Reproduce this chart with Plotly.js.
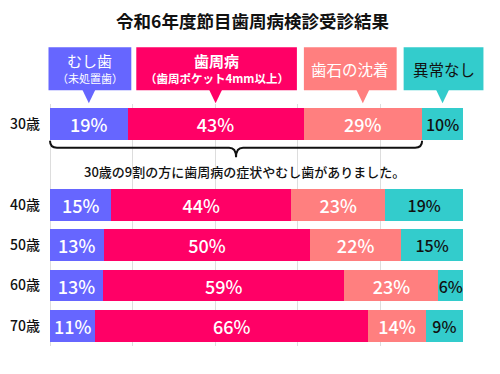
<!DOCTYPE html>
<html>
<head>
<meta charset="utf-8">
<script src="https://cdn.plot.ly/plotly-3.0.1.min.js"></script>
<style>
html,body{margin:0;padding:0;background:#fff;}
#chart{width:500px;height:374px;}
</style>
</head>
<body>
<div id="chart"></div>
<script>
// ---- data ----
const ages = ['30歳', '　', '40歳', '50歳', '60歳', '70歳'];
const seriesNames = ['むし歯', '歯周病', '歯石の沈着', '異常なし'];
const caries    = [19, null, 15, 13, 13, 11];
const perio     = [43, null, 44, 50, 59, 66];
const calculus  = [29, null, 23, 22, 23, 14];
const normal    = [10, null, 19, 15, 6, 9];
const legendTop = ['むし歯', '歯周病', '歯石の沈着', '異常なし'];
const legendSub = ['（未処置歯）', '（歯周ポケット4mm以上）', '', ''];
const noteText = '30歳の9割の方に歯周病の症状やむし歯がありました。';
const titleText = '令和6年度節目歯周病検診受診結果';

// ---- styles ----
const colors = ['#6666FF', '#FF0066', '#FF7F7F', '#33CCCC'];
const textColors = ['#ffffff', '#ffffff', '#ffffff', '#111111'];
const FONT = '"Noto Sans CJK JP", "Noto Sans", sans-serif';

const W = 500, H = 374;
const M = {l: 49.5, r: 36.5, t: 103.8, b: 28};
const plotW = W - M.l - M.r, plotH = H - M.t - M.b;
const px = x => (x - M.l) / plotW;      // pixel -> paper x
const py = y => (H - M.b - y) / plotH;  // pixel -> paper y

const allSeries = [caries, perio, calculus, normal];

const traces = allSeries.map((vals, i) => ({
  type: 'bar',
  orientation: 'h',
  name: seriesNames[i],
  y: ages,
  x: vals,
  marker: {color: colors[i], line: {width: 0}},
  text: vals.map(v => v == null ? '' : v + '%'),
  textposition: 'inside',
  insidetextanchor: 'middle',
  textangle: 0,
  constraintext: 'none',
  textfont: {family: FONT, size: i === 3 ? 16 : 18, color: textColors[i], weight: 500},
  hoverinfo: 'skip'
}));

// segment centers for the 30歳 row, in normalized percent
const row0 = allSeries.map(s => s[0]);
const tot0 = row0.reduce((a, b) => a + b, 0);
const centers = [];
let acc = 0;
row0.forEach(v => { const p = v / tot0 * 100; centers.push(acc + p / 2); acc += p; });
const braceEnd = (row0[0] + row0[1] + row0[2]) / tot0 * 100;

const shapes = [];
const annotations = [];

// callout boxes (decoration)
const boxPx = [[48, 131], [136, 297], [304, 397], [404, 484]];
const boxTop = 47, boxBot = 90, tipY = 103;
const halfTri = 6.5 / plotW * 100;
boxPx.forEach((b, i) => {
  shapes.push({type: 'rect', xref: 'paper', yref: 'paper',
    x0: px(b[0]), x1: px(b[1]), y0: py(boxBot), y1: py(boxTop),
    fillcolor: colors[i], line: {width: 0}, layer: 'above'});
  const c = centers[i];
  const xToPaper = v => v / 100;
  shapes.push({type: 'path', xref: 'paper', yref: 'paper',
    path: `M ${xToPaper(c - halfTri)} ${py(boxBot - 0.5)} L ${xToPaper(c + halfTri)} ${py(boxBot - 0.5)} L ${xToPaper(c)} ${py(tipY)} Z`,
    fillcolor: colors[i], line: {width: 0}, layer: 'above'});
  const cx = px((b[0] + b[1]) / 2);
  if (legendSub[i]) {
    annotations.push({xref: 'paper', yref: 'paper', x: cx, y: py(60), xanchor: 'center', yanchor: 'middle',
      text: legendTop[i], showarrow: false,
      font: {family: FONT, size: 15, color: textColors[i], weight: i === 1 ? 700 : 400}});
    annotations.push({xref: 'paper', yref: 'paper', x: cx, y: py(78), xanchor: 'center', yanchor: 'middle',
      text: legendSub[i], showarrow: false,
      font: {family: FONT, size: i === 1 ? 11.5 : 11, color: textColors[i], weight: i === 1 ? 700 : 400}});
  } else {
    annotations.push({xref: 'paper', yref: 'paper', x: cx, y: py(69), xanchor: 'center', yanchor: 'middle',
      text: legendTop[i], showarrow: false,
      font: {family: FONT, size: 15.5, color: textColors[i], weight: 400}});
  }
});

// brace under the 30歳 bar
(function () {
  const x0 = 0, x1 = braceEnd / 100, xm = (x0 + x1) / 2;
  const yTop = py(140.5), yLine = py(147.5), yTip = py(157);
  const r = 7 / plotW;
  const path = `M ${x0} ${yTop} Q ${x0} ${yLine} ${x0 + r} ${yLine} ` +
    `L ${xm - r} ${yLine} Q ${xm} ${yLine} ${xm} ${yTip} ` +
    `Q ${xm} ${yLine} ${xm + r} ${yLine} L ${x1 - r} ${yLine} Q ${x1} ${yLine} ${x1} ${yTop}`;
  shapes.push({type: 'path', xref: 'paper', yref: 'paper', path: path,
    line: {color: '#111', width: 2}, layer: 'above'});
})();

annotations.push({xref: 'paper', yref: 'paper', x: px(244), y: py(171), xanchor: 'center', yanchor: 'middle',
  text: noteText, showarrow: false, font: {family: FONT, size: 13, color: '#111', weight: 500}});

const layout = {
  width: W, height: H,
  margin: M,
  paper_bgcolor: '#fff', plot_bgcolor: '#fff',
  barmode: 'stack',
  barnorm: 'percent',
  bargap: 0.22,
  showlegend: false,
  title: {text: titleText, x: 0.505, xref: 'container', xanchor: 'center',
    y: 1 - 22 / H, yref: 'container', yanchor: 'middle',
    font: {family: FONT, size: 17.5, color: '#111', weight: 700}},
  xaxis: {range: [0, 100], dtick: 20, showgrid: true, gridcolor: '#dddddd', gridwidth: 1,
    zeroline: true, zerolinecolor: '#dddddd', zerolinewidth: 1,
    showticklabels: false, ticks: '', showline: false, fixedrange: true},
  yaxis: {type: 'category', categoryorder: 'array', categoryarray: ages,
    autorange: 'reversed', showgrid: false, zeroline: false, ticks: '',
    ticklabelstandoff: 9,
    tickfont: {family: FONT, size: 14, color: '#111', weight: 500}, fixedrange: true},
  shapes: shapes,
  annotations: annotations
};

Plotly.newPlot('chart', traces, layout, {staticPlot: true, displayModeBar: false});
</script>
</body>
</html>
